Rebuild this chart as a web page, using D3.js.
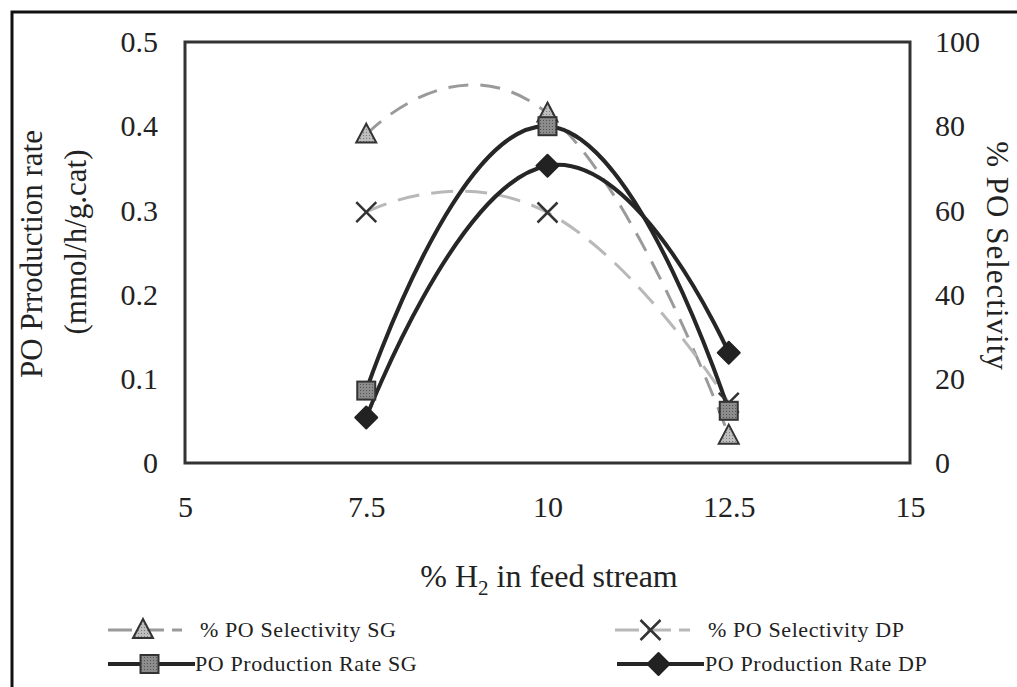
<!DOCTYPE html>
<html>
<head>
<meta charset="utf-8">
<script src="https://cdn.jsdelivr.net/npm/d3@7"></script>
<style>
  html, body { margin: 0; padding: 0; background: #fff; }
  svg { display: block; }
  text { font-family: "Liberation Serif", "Times New Roman", serif; fill: #222; }
</style>
</head>
<body>
<svg id="chart" width="1017" height="687"></svg>
<script>
// H2 content in feed stream (%)
const h2Levels = [7.5, 10, 12.5];
// PO selectivity (%), right axis
const selectivitySG = [78, 83, 6.5];
const selectivityDP = [59.6, 59.5, 14.3];
// PO production rate (mmol/h/g.cat), left axis
const productionSG = [0.086, 0.400, 0.062];
const productionDP = [0.054, 0.353, 0.131];

const xTicks = [5, 7.5, 10, 12.5, 15];
const leftTicks = [0, 0.1, 0.2, 0.3, 0.4, 0.5];
const rightTicks = [0, 20, 40, 60, 80, 100];

const svg = d3.select("#chart");

const plot = { left: 185, right: 910, top: 42, bottom: 463 };
const x = d3.scaleLinear().domain([5, 15]).range([plot.left, plot.right]);
const yL = d3.scaleLinear().domain([0, 0.5]).range([plot.bottom, plot.top]);
const yR = d3.scaleLinear().domain([0, 100]).range([plot.bottom, plot.top]);

// outer figure frame
svg.append("rect")
  .attr("x", 12).attr("y", 12).attr("width", 1030).attr("height", 700)
  .attr("fill", "none").attr("stroke", "#111").attr("stroke-width", 3);

// texture for the light markers
const defs = svg.append("defs");
const pat = defs.append("pattern").attr("id", "grain").attr("width", 3).attr("height", 3)
  .attr("patternUnits", "userSpaceOnUse");
pat.append("rect").attr("width", 3).attr("height", 3).attr("fill", "#bdbdbd");
pat.append("rect").attr("width", 1).attr("height", 1).attr("fill", "#7a7a7a");
const pat2 = defs.append("pattern").attr("id", "grain2").attr("width", 3).attr("height", 3)
  .attr("patternUnits", "userSpaceOnUse");
pat2.append("rect").attr("width", 3).attr("height", 3).attr("fill", "#8c8c8c");
pat2.append("rect").attr("width", 1).attr("height", 1).attr("fill", "#555");

// axes (labels only, no tick marks)
const axB = d3.axisBottom(x).tickValues(xTicks).tickSize(0).tickPadding(0)
  .tickFormat(d => String(d));
svg.append("g").attr("transform", `translate(0,${plot.bottom + 51})`).call(axB)
  .call(g => g.select(".domain").remove())
  .call(g => g.selectAll("text").attr("font-size", 30).attr("dy", "0.1em")
    .style("font-family", "Liberation Serif").attr("fill", "#222"));

const axL = d3.axisLeft(yL).tickValues(leftTicks).tickSize(0).tickPadding(0)
  .tickFormat(d => String(d));
svg.append("g").attr("transform", `translate(158,0)`).call(axL)
  .call(g => g.select(".domain").remove())
  .call(g => g.selectAll("text").attr("font-size", 30)
    .style("font-family", "Liberation Serif").attr("fill", "#222"));

const axR = d3.axisRight(yR).tickValues(rightTicks).tickSize(0).tickPadding(0)
  .tickFormat(d => String(d));
svg.append("g").attr("transform", `translate(935,0)`).call(axR)
  .call(g => g.select(".domain").remove())
  .call(g => g.selectAll("text").attr("font-size", 30)
    .style("font-family", "Liberation Serif").attr("fill", "#222"));

// plot box
svg.append("rect")
  .attr("x", plot.left).attr("y", plot.top)
  .attr("width", plot.right - plot.left).attr("height", plot.bottom - plot.top)
  .attr("fill", "none").attr("stroke", "#333").attr("stroke-width", 3);

// axis titles
svg.append("text").attr("transform", "translate(42,254) rotate(-90)")
  .attr("text-anchor", "middle").attr("font-size", 31).text("PO Prroduction rate");
svg.append("text").attr("transform", "translate(86,242) rotate(-90)")
  .attr("text-anchor", "middle").attr("font-size", 31).text("(mmol/h/g.cat)");
svg.append("text").attr("transform", "translate(987,256) rotate(90)")
  .attr("text-anchor", "middle").attr("font-size", 31).attr("letter-spacing", 1)
  .text("% PO Selectivity");

const xt = svg.append("text").attr("x", 549).attr("y", 587)
  .attr("text-anchor", "middle").attr("font-size", 32);
xt.append("tspan").text("% H");
xt.append("tspan").attr("font-size", 21).attr("dy", 8).text("2");
xt.append("tspan").attr("dy", -8).text(" in feed stream");

// smoothed series lines
const smooth = d3.curveCardinal.tension(-0.5);
const lineR = d3.line().x(d => x(d[0])).y(d => yR(d[1])).curve(smooth);
const lineL = d3.line().x(d => x(d[0])).y(d => yL(d[1])).curve(smooth);
const zip = vals => h2Levels.map((h, i) => [h, vals[i]]);

const g = svg.append("g");
g.append("path").attr("d", lineR(zip(selectivitySG)))
  .attr("fill", "none").attr("stroke", "#9a9a9a").attr("stroke-width", 3)
  .attr("stroke-dasharray", "20,12");
g.append("path").attr("d", lineR(zip(selectivityDP)))
  .attr("fill", "none").attr("stroke", "#b8b8b8").attr("stroke-width", 3)
  .attr("stroke-dasharray", "22,12");
g.append("path").attr("d", lineL(zip(productionSG)))
  .attr("fill", "none").attr("stroke", "#262626").attr("stroke-width", 4);
g.append("path").attr("d", lineL(zip(productionDP)))
  .attr("fill", "none").attr("stroke", "#262626").attr("stroke-width", 4);

// marker shapes
function triangle(sel, cx, cy) {
  sel.append("path")
    .attr("d", `M${cx},${cy - 11}L${cx + 10},${cy + 8}L${cx - 10},${cy + 8}Z`)
    .attr("fill", "url(#grain)").attr("stroke", "#333").attr("stroke-width", 2);
}
function cross(sel, cx, cy) {
  sel.append("path")
    .attr("d", `M${cx - 10},${cy - 10}L${cx + 10},${cy + 10}M${cx + 10},${cy - 10}L${cx - 10},${cy + 10}`)
    .attr("stroke", "#333").attr("stroke-width", 2.5).attr("fill", "none");
}
function square(sel, cx, cy) {
  sel.append("rect").attr("x", cx - 9).attr("y", cy - 9).attr("width", 18).attr("height", 18)
    .attr("fill", "url(#grain2)").attr("stroke", "#333").attr("stroke-width", 2);
}
function diamond(sel, cx, cy) {
  sel.append("path")
    .attr("d", `M${cx},${cy - 11}L${cx + 11},${cy}L${cx},${cy + 11}L${cx - 11},${cy}Z`)
    .attr("fill", "#222").attr("stroke", "#222").attr("stroke-width", 2).attr("stroke-linejoin", "round");
}

const m = svg.append("g");
zip(selectivitySG).forEach(d => triangle(m, x(d[0]), yR(d[1])));
zip(selectivityDP).forEach(d => cross(m, x(d[0]), yR(d[1])));
zip(productionSG).forEach(d => square(m, x(d[0]), yL(d[1])));
zip(productionDP).forEach(d => diamond(m, x(d[0]), yL(d[1])));

// legend
const legend = [
  { name: "% PO Selectivity SG", x0: 108, x1: 182, tx: 200, y: 630, kind: "selSG" },
  { name: "% PO Selectivity DP", x0: 615, x1: 690, tx: 708, y: 630, kind: "selDP" },
  { name: "PO Production Rate SG", x0: 108, x1: 195, tx: 195, y: 664, kind: "prodSG" },
  { name: "PO Production Rate DP", x0: 617, x1: 704, tx: 705, y: 664, kind: "prodDP" }
];
const lg = svg.append("g");
legend.forEach(e => {
  const mid = (e.x0 + e.x1) / 2 - 2;
  const ln = lg.append("line").attr("x1", e.x0).attr("x2", e.x1).attr("y1", e.y).attr("y2", e.y);
  if (e.kind === "selSG") ln.attr("stroke", "#9a9a9a").attr("stroke-width", 3).attr("stroke-dasharray", "24,8");
  else if (e.kind === "selDP") ln.attr("stroke", "#b8b8b8").attr("stroke-width", 3).attr("stroke-dasharray", "24,8");
  else ln.attr("stroke", "#262626").attr("stroke-width", 4);
  if (e.kind === "selSG") triangle(lg, mid, e.y);
  if (e.kind === "selDP") cross(lg, mid, e.y);
  if (e.kind === "prodSG") square(lg, mid, e.y);
  if (e.kind === "prodDP") diamond(lg, mid, e.y);
  lg.append("text").attr("x", e.tx).attr("y", e.y + 7).attr("font-size", 22)
    .attr("letter-spacing", 0.6).text(e.name);
});
</script>
</body>
</html>
